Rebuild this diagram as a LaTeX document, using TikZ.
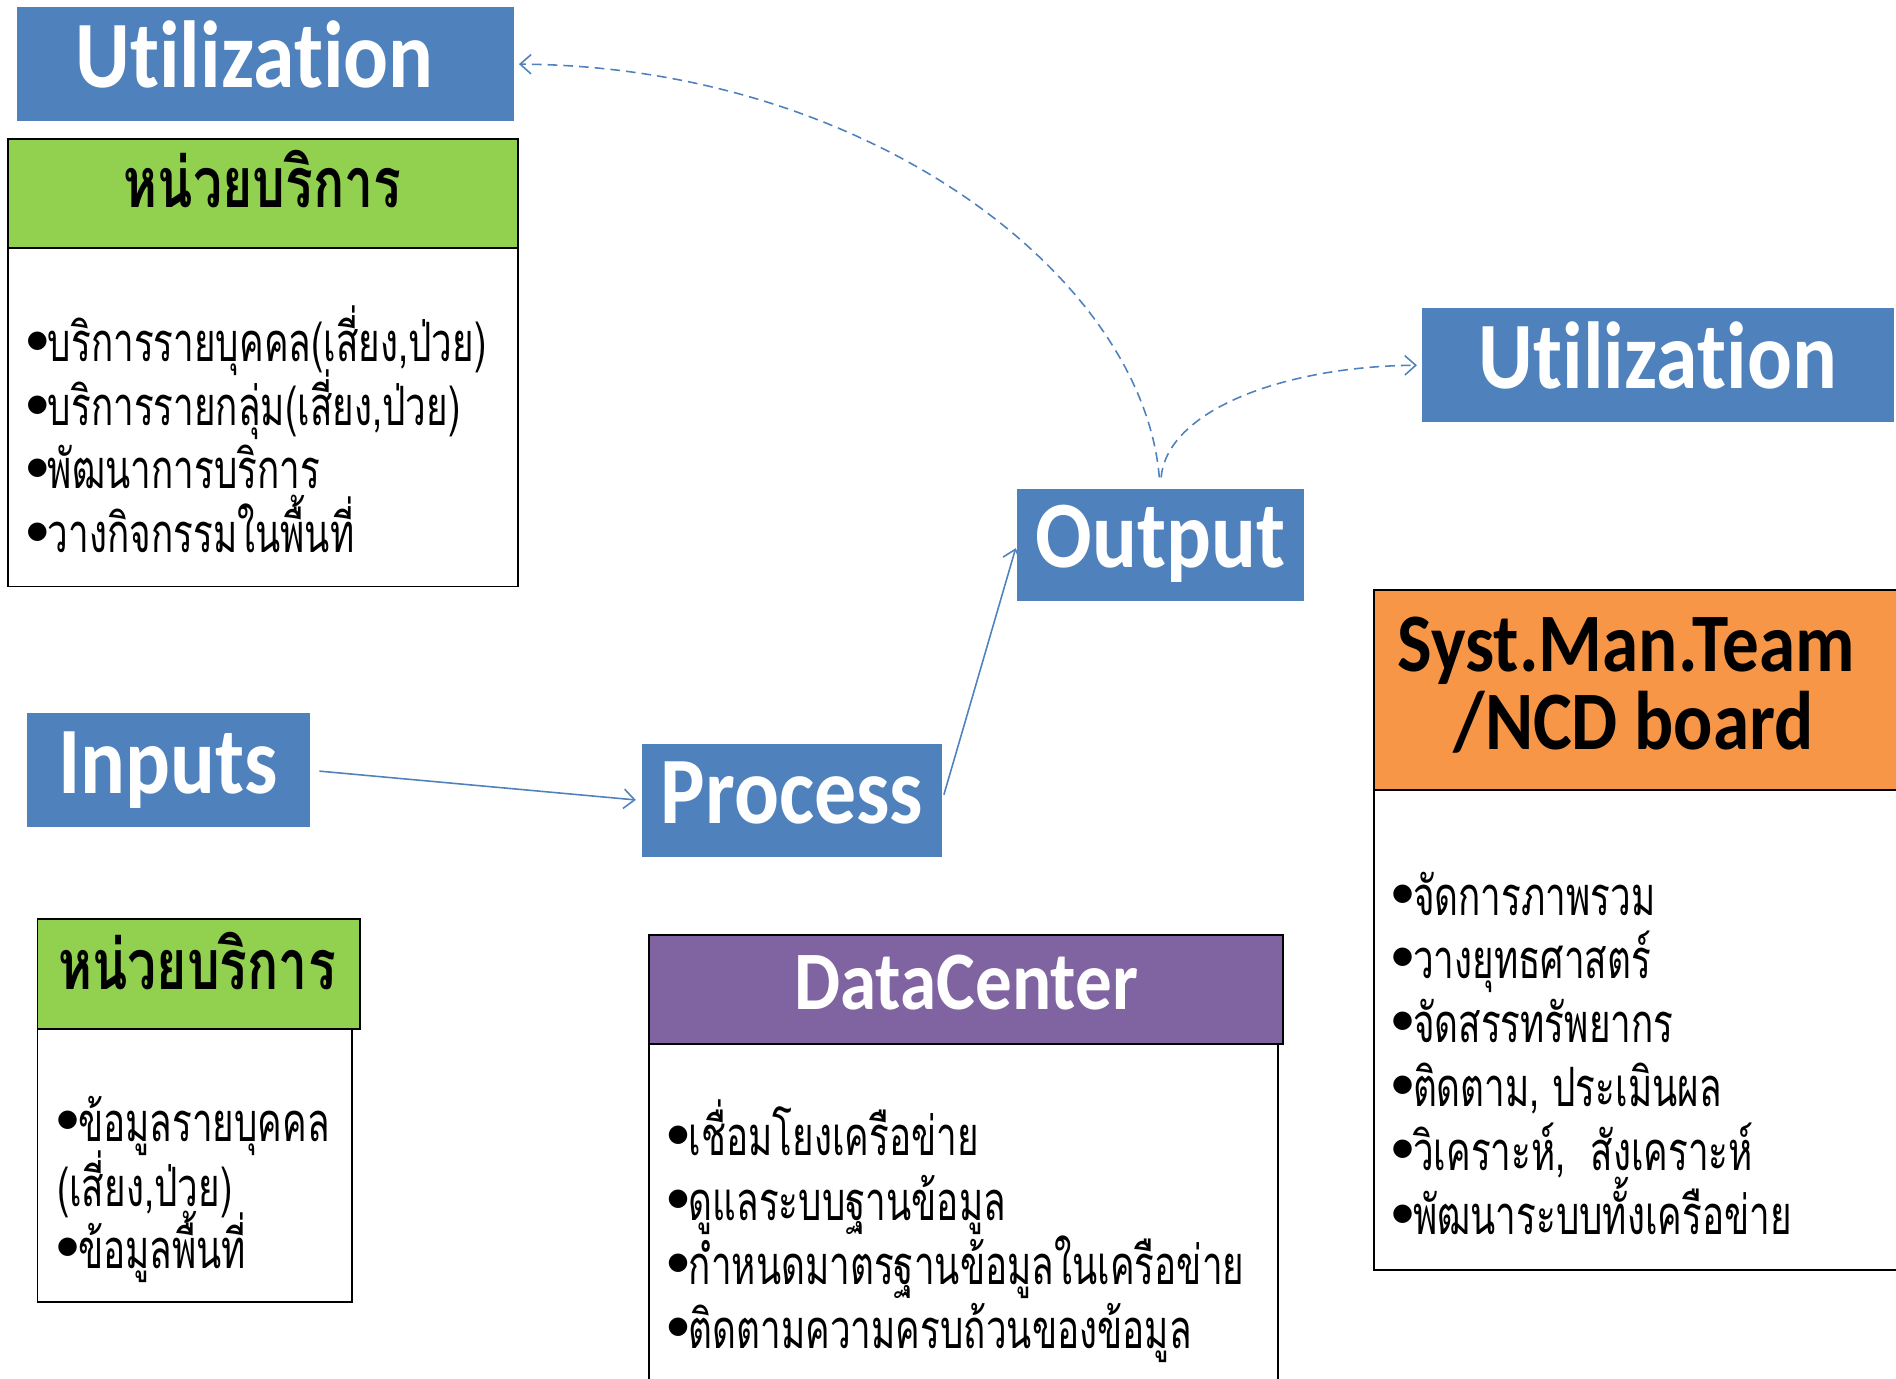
\documentclass[tikz,border=0pt]{standalone}
\usepackage{fontspec}
\usetikzlibrary{arrows.meta}
\setmainfont{Carlito}
\newfontfamily\latb{Carlito}[FakeStretch=0.88,Ligatures=NoCommon]
\newfontfamily\thai{Loma}[Script=Thai,FakeStretch=0.68]
\newfontfamily\thaih{Loma}[Script=Thai,FakeStretch=0.74]
\newfontfamily\symf{DejaVu Sans}
\definecolor{ublue}{HTML}{4F81BD}
\definecolor{ugreen}{HTML}{92D050}
\definecolor{uorange}{HTML}{F79646}
\definecolor{upurple}{HTML}{8064A2}
\newcommand\mybul{{\symf\fontsize{20}{20}\selectfont\raisebox{12bp}{●}}}
\tikzset{
  blueblk/.style={fill=ublue, draw=none, inner sep=0pt, text=white,
    font=\latb\bfseries\fontsize{79}{79}\selectfont, text height=38bp, text depth=0pt},
  hdr/.style={draw=black, line width=1.6bp, inner sep=0pt},
  bodybox/.style={draw=black, line width=1.6bp, fill=white, inner sep=0pt},
  thhead/.style={anchor=base, inner sep=0pt, font=\thaih\bfseries\fontsize{58}{58}\selectfont},
  thline/.style={anchor=base west, inner sep=0pt, font=\thai\fontsize{45}{45}\selectfont},
  arr/.style={draw=ublue, line width=1.3bp, -{Straight Barb[length=9bp,width=16bp]}},
  darr/.style={arr, dash pattern=on 8bp off 5bp},
}
\begin{document}
\begin{tikzpicture}[x=1bp,y=-1bp]
\useasboundingbox (0,0) rectangle (1568,1140);
% blue blocks
\node[blueblk, minimum width=411bp, minimum height=94bp] (util1) at (219.5,53) {Utilization\rule{18bp}{0pt}};
\node[blueblk, minimum width=390bp, minimum height=94bp] (util2) at (1371,302) {Utilization};
\node[blueblk, minimum width=237bp, minimum height=93bp] (output) at (959.5,450.5) {Output};
\node[blueblk, minimum width=234bp, minimum height=94bp] (inputs) at (139,637) {Inputs};
\node[blueblk, minimum width=248bp, minimum height=94bp] (process) at (655,662) {Process};
% top green box
\node[bodybox, minimum width=421bp, minimum height=280bp] (gbody1) at (217.5,345) {};
\node[hdr, fill=ugreen, minimum width=421bp, minimum height=90bp] (ghead1) at (217.5,160) {};
\node[thhead] (gt1) at (217,172) {หน่วยบริการ};
\node[thline] (g1a) at (22,299) {\mybul บริการรายบุคคล(เสี่ยง,ป่วย)};
\node[thline] (g1b) at (22,352) {\mybul บริการรายกลุ่ม(เสี่ยง,ป่วย)};
\node[thline] (g1c) at (22,404) {\mybul พัฒนาการบริการ};
\node[thline] (g1d) at (22,457) {\mybul วางกิจกรรมในพื้นที่};
% bottom green box
\node[bodybox, minimum width=260bp, minimum height=226bp] (gbody2) at (161,964) {};
\node[hdr, fill=ugreen, minimum width=267bp, minimum height=91bp] (ghead2) at (164.5,805.5) {};
\node[thhead] (gt2) at (163,818) {หน่วยบริการ};
\node[thline] (g2a) at (47,944) {\mybul ข้อมูลรายบุคคล};
\node[thline] (g2b) at (47,998) {(เสี่ยง,ป่วย)};
\node[thline] (g2c) at (47,1049) {\mybul ข้อมูลพื้นที่};
% purple box
\node[bodybox, minimum width=520bp, minimum height=287bp] (pbody) at (797,1006.5) {};
\node[hdr, fill=upurple, minimum width=524bp, minimum height=90bp, text=white,
  font=\latb\bfseries\fontsize{69}{69}\selectfont, text height=34bp, text depth=0pt] (phead) at (799,818) {DataCenter};
\node[thline] (p1) at (552,956) {\mybul เชื่อมโยงเครือข่าย};
\node[thline] (p2) at (552,1009) {\mybul ดูแลระบบฐานข้อมูล};
\node[thline] (p3) at (552,1062) {\mybul กำหนดมาตรฐานข้อมูลในเครือข่าย};
\node[thline] (p4) at (552,1115) {\mybul ติดตามความครบถ้วนของข้อมูล};
% orange box
\node[bodybox, minimum width=444bp, minimum height=397bp] (obody) at (1358,851.5) {};
\node[hdr, fill=uorange, minimum width=444bp, minimum height=165bp] (ohead) at (1358,570.5) {};
\node[anchor=base, inner sep=0pt, font=\latb\bfseries\fontsize{69}{69}\selectfont] (ot1) at (1345,555) {Syst.Man.Team};
\node[anchor=base, inner sep=0pt, font=\latb\bfseries\fontsize{69}{69}\selectfont] (ot2) at (1351,620) {/NCD board};
\node[thline] (o1) at (1151,757) {\mybul จัดการภาพรวม};
\node[thline] (o2) at (1151,809) {\mybul วางยุทธศาสตร์};
\node[thline] (o3) at (1151,862) {\mybul จัดสรรทรัพยากร};
\node[thline] (o4) at (1151,915) {\mybul ติดตาม, ประเมินผล};
\node[thline] (o5) at (1151,968) {\mybul วิเคราะห์,\ \ สังเคราะห์};
\node[thline] (o6) at (1151,1021) {\mybul พัฒนาระบบทั้งเครือข่าย};
% connectors
\draw[arr, shorten <=8bp, shorten >=5bp] (inputs.east) -- (process.west);
\draw[arr, shorten <=5bp, shorten >=3bp] (process.east) -- (output.west);
\draw[darr, shorten <=9bp, shorten >=4bp] (output.north) .. controls (945,230) and (720,55) .. (util1.east);
\draw[darr, shorten <=9bp, shorten >=4bp] (output.north) .. controls (965,340) and (1060,303) .. (util2.west);
\end{tikzpicture}
\end{document}
